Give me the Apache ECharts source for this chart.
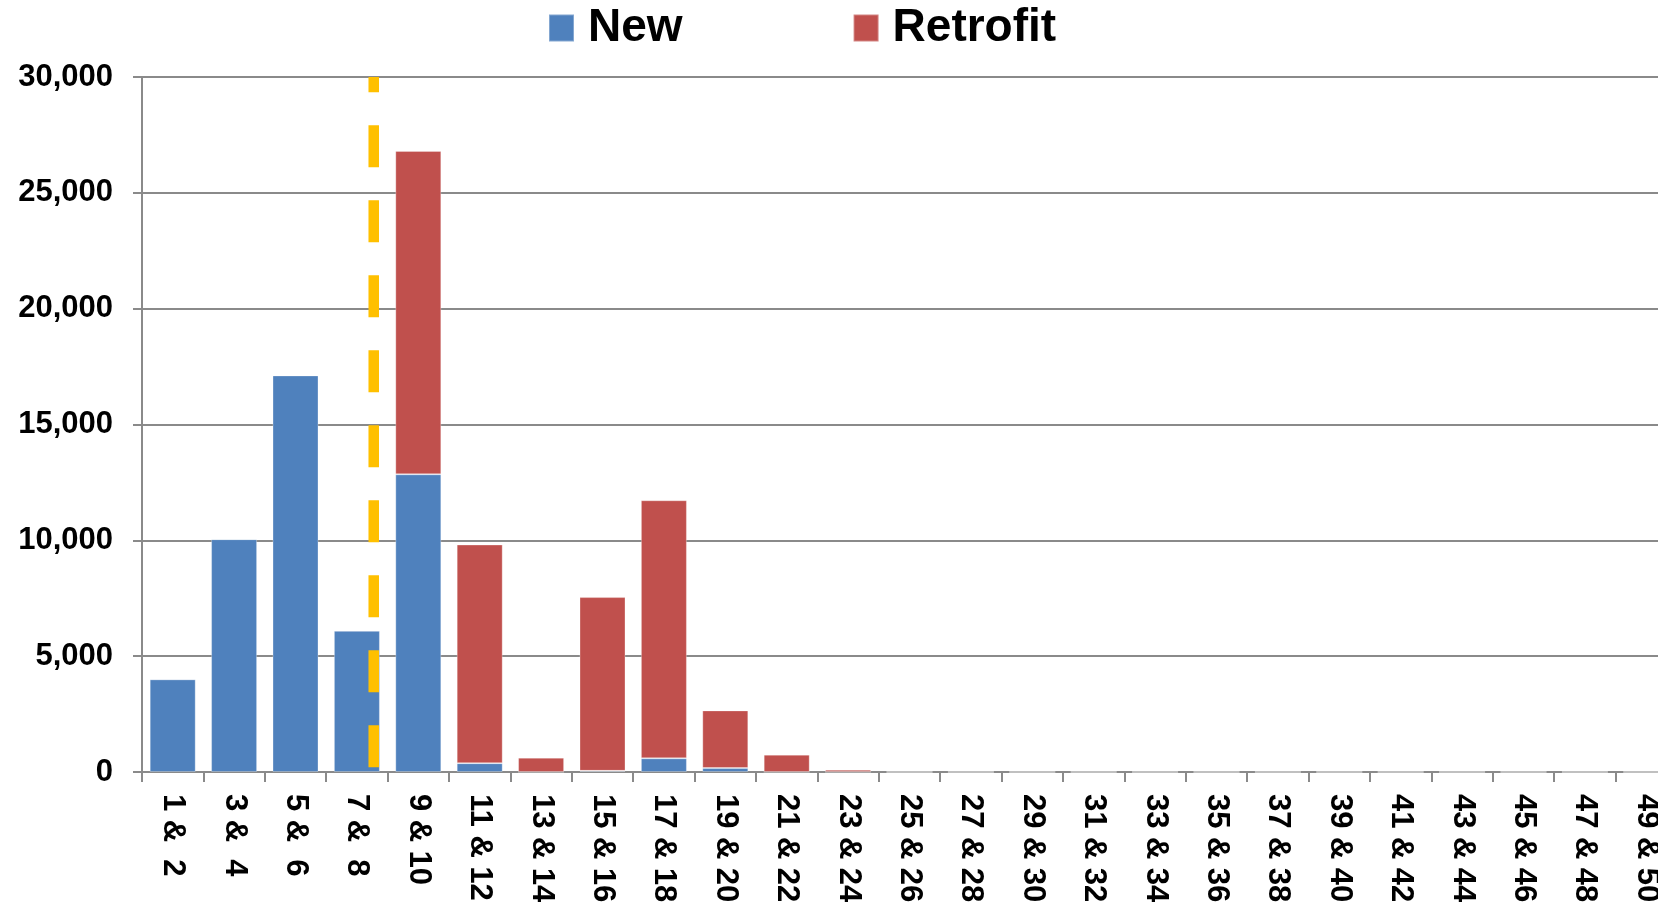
<!DOCTYPE html>
<html>
<head>
<meta charset="utf-8">
<script src="https://cdn.jsdelivr.net/npm/echarts@6/dist/echarts.min.js"></script>
<style>
html,body{margin:0;padding:0;background:#fff;overflow:hidden;width:1658px;height:906px;}
#chart{width:1700px;height:906px;}
</style>
</head>
<body>
<div id="chart"></div>
<script>
const categories = ['1 & 2','3 & 4','5 & 6','7 & 8','9 & 10','11 & 12','13 & 14','15 & 16','17 & 18','19 & 20','21 & 22','23 & 24','25 & 26','27 & 28','29 & 30','31 & 32','33 & 34','35 & 36','37 & 38','39 & 40','41 & 42','43 & 44','45 & 46','47 & 48','49 & 50'];
const newValues = [4000, 10050, 17120, 6100, 12850, 380, 0, 50, 590, 170, 0, 0, 0, 0, 0, 0, 0, 0, 0, 0, 0, 0, 0, 0, 0];
const retrofitValues = [0, 0, 0, 0, 13960, 9440, 620, 7500, 11140, 2490, 750, 100, 0, 0, 0, 0, 0, 0, 0, 0, 0, 0, 0, 0, 0];
const yTicks = [0, 5000, 10000, 15000, 20000, 25000, 30000];
const markerPosition = 3.774;   // position on the category scale (in category units)
const markerRange = [200, 30000];

const FONT = "'Liberation Sans', Arial, sans-serif";
const GRID_COLOR = '#8a8a8a';

const chart = echarts.init(document.getElementById('chart'), null, {renderer: 'canvas', width: 1700, height: 906});
const labelFont = {fontFamily: FONT, fontWeight: 'bold', fontSize: 31, color: '#000'};

chart.setOption({
  backgroundColor: '#fff',
  animation: false,
  legend: {
    data: ['New', 'Retrofit'],
    left: 543,
    top: -2,
    icon: 'rect',
    itemWidth: 25,
    itemHeight: 27,
    itemGap: 170,
    textStyle: {fontFamily: FONT, fontWeight: 'bold', fontSize: 46, color: '#000', padding: [0, 0, 0, 9], lineHeight: 50}
  },
  grid: {left: 142, top: 77, width: 1535, bottom: 134, containLabel: false},
  xAxis: [{
    type: 'category',
    data: categories,
    boundaryGap: true,
    axisLine: {show: true, lineStyle: {color: GRID_COLOR, width: 2}},
    axisTick: {show: true, length: 10, alignWithLabel: false, lineStyle: {color: GRID_COLOR, width: 2}},
    axisLabel: {
      interval: 0,
      rotate: -90,
      margin: 22,
      fontFamily: FONT, fontWeight: 'bold', fontSize: 31, color: '#000',
      formatter: function (v) {
        const p = v.split(' & ');
        return '{a|' + p[0] + ' & }{c|' + p[1] + '}';
      },
      rich: {
        a: labelFont,
        c: Object.assign({width: 34, align: 'center'}, labelFont)
      }
    }
  }, {
    type: 'value',
    min: 0,
    max: categories.length,
    show: false
  }],
  yAxis: {
    type: 'value',
    min: yTicks[0],
    max: yTicks[yTicks.length - 1],
    interval: yTicks[1] - yTicks[0],
    axisLine: {show: true, lineStyle: {color: GRID_COLOR, width: 2}},
    axisTick: {show: true, length: 9, lineStyle: {color: GRID_COLOR, width: 2}},
    splitLine: {show: true, lineStyle: {color: GRID_COLOR, width: 2}},
    axisLabel: {
      margin: 29,
      fontFamily: FONT, fontWeight: 'bold', fontSize: 31, color: '#000',
      formatter: function (v) { return v.toLocaleString('en-US'); }
    }
  },
  series: [{
    name: 'New',
    type: 'bar',
    stack: 'total',
    barWidth: 46,
    data: newValues,
    itemStyle: {color: '#4F81BD', borderColor: 'rgba(255,255,255,0.3)', borderWidth: 1}
  }, {
    name: 'Retrofit',
    type: 'bar',
    stack: 'total',
    barWidth: 46,
    data: retrofitValues,
    itemStyle: {color: '#C0504D', borderColor: 'rgba(255,255,255,0.3)', borderWidth: 1}
  }, {
    name: 'marker',
    type: 'line',
    xAxisIndex: 1,
    z: 10,
    symbol: 'none',
    silent: true,
    data: [[markerPosition, markerRange[0]], [markerPosition, markerRange[1]]],
    lineStyle: {color: '#FFC000', width: 10.5, type: [42, 33], cap: 'butt'}
  }]
});
</script>
</body>
</html>
